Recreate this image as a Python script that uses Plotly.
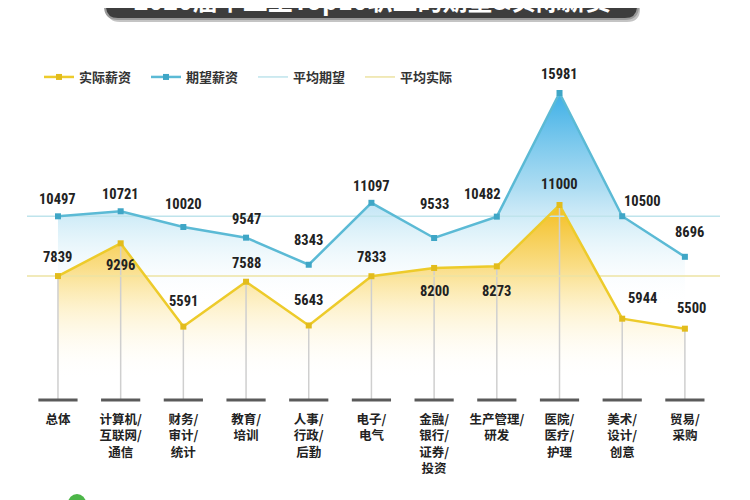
import plotly.graph_objects as go

# ---------------- data ----------------
categories = ["总体", "计算机/<br>互联网/<br>通信", "财务/<br>审计/<br>统计", "教育/<br>培训",
              "人事/<br>行政/<br>后勤", "电子/<br>电气", "金融/<br>银行/<br>证券/<br>投资",
              "生产管理/<br>研发", "医院/<br>医疗/<br>护理", "美术/<br>设计/<br>创意", "贸易/<br>采购"]
actual = [7839, 9296, 5591, 7588, 5643, 7833, 8200, 8273, 11000, 5944, 5500]
expected = [10497, 10721, 10020, 9547, 8343, 11097, 9533, 10482, 15981, 10500, 8696]
avg_expected = 10497
avg_actual = 7839
base_value = 2330
title_text = "• 2020届毕业生Top10职业的期望&实际薪资 •"

# label offsets in pixels (style only): vertical (negative = above) and horizontal
exp_dy = [-17, -17, -23, -18, -24, -16, -33, -22, -18, -15, -24]
exp_dx = [0, 0, 0, 0, 0, 0, 0, -14, 0, 20, 5]
act_dy = [-19, 22, -25, -18, -25, -19, 24, 25, -20, -20, -20]
act_dx = [0, 0, 0, 0, 0, 0, 0, 0, 0, 20, 7]

# ---------------- geometry helpers ----------------
OFF = 8  # page body margin
W, H = 750, 500
PW, PH = 693, 342
ML, MT = 27 - OFF, 60 - OFF
MR, MB = W - ML - PW, H - MT - PH
x_range = [-0.494, 10.56]
y_range = [2239, 17448]

def px2paper_x(px):
    return (px - OFF - ML) / PW

def px2paper_y(py):
    return 1 - (py - OFF - MT) / PH

xs = list(range(len(categories)))

YELLOW = "#EDCB2B"
YELLOW_M = "#E2BC1C"
BLUE = "#5BBAD5"
BLUE_M = "#3FA6C6"
NUMFONT = "Roboto Condensed, Roboto, sans-serif"
CJK = "Noto Sans CJK SC, sans-serif"

fig = go.Figure()

# blue gradient fill
fig.add_trace(go.Scatter(
    x=xs, y=expected, mode="none", fill="tozeroy", showlegend=False, hoverinfo="skip",
    fillgradient=dict(type="vertical", start=6500, stop=16000,
                      colorscale=[[0, "rgba(255,255,255,0)"], [0.35, "rgba(200,233,246,0.6)"],
                                  [0.55, "rgba(160,215,240,0.85)"], [1, "rgba(60,175,230,1)"]]),
))
# yellow gradient fill
fig.add_trace(go.Scatter(
    x=xs, y=actual, mode="none", fill="tozeroy", showlegend=False, hoverinfo="skip",
    fillgradient=dict(type="vertical", start=3200, stop=11000,
                      colorscale=[[0, "rgba(255,255,255,0)"], [0.4, "rgba(253,238,190,0.7)"],
                                  [0.65, "rgba(250,218,120,0.9)"], [1, "rgba(245,190,30,1)"]]),
))

# vertical guide lines
vx, vy = [], []
for x, a in zip(xs, actual):
    vx += [x, x, None]
    vy += [a, base_value, None]
fig.add_trace(go.Scatter(x=vx, y=vy, mode="lines", line=dict(color="#cfcfcf", width=1.5),
                         showlegend=False, hoverinfo="skip"))
# bottom bars
fig.add_trace(go.Scatter(x=xs, y=[base_value] * len(xs), mode="markers",
                         marker=dict(symbol="line-ew", size=28, line=dict(color="#5a5a5a", width=3)),
                         showlegend=False, hoverinfo="skip", cliponaxis=False))

# average lines
fig.add_trace(go.Scatter(x=x_range, y=[avg_expected] * 2, mode="lines", name="平均期望",
                         line=dict(color="#BFE4EC", width=1.5), legendrank=3))
fig.add_trace(go.Scatter(x=x_range, y=[avg_actual] * 2, mode="lines", name="平均实际",
                         line=dict(color="#EDE3A3", width=1.5), legendrank=4))

# main lines
fig.add_trace(go.Scatter(
    x=xs, y=expected, mode="lines+markers", name="期望薪资", legendrank=2,
    line=dict(color=BLUE, width=2.5), marker=dict(symbol="square", size=6, color=BLUE_M)))
fig.add_trace(go.Scatter(
    x=xs, y=actual, mode="lines+markers", name="实际薪资", legendrank=1,
    line=dict(color=YELLOW, width=2.5), marker=dict(symbol="square", size=6, color=YELLOW_M)))

# value labels
annotations = []
for series, dys, dxs in ((expected, exp_dy, exp_dx), (actual, act_dy, act_dx)):
    for x, v, dy, dx in zip(xs, series, dys, dxs):
        annotations.append(dict(x=x, y=v, xref="x", yref="y", text=str(v), showarrow=False,
                                xanchor="center", yanchor="middle", xshift=dx, yshift=-dy,
                                font=dict(family=NUMFONT, size=14.5, color="#222", weight="bold")))

# title box (partially cut at the top)
bx0, bx1, by0, by1, r = 105, 638, -25, 19, 13
def rounded_path(x0, x1, y0, y1, r):
    X = px2paper_x; Y = px2paper_y
    return (f"M {X(x0 + r)},{Y(y0)} L {X(x1 - r)},{Y(y0)} Q {X(x1)},{Y(y0)} {X(x1)},{Y(y0 + r)} "
            f"L {X(x1)},{Y(y1 - r)} Q {X(x1)},{Y(y1)} {X(x1 - r)},{Y(y1)} "
            f"L {X(x0 + r)},{Y(y1)} Q {X(x0)},{Y(y1)} {X(x0)},{Y(y1 - r)} "
            f"L {X(x0)},{Y(y0 + r)} Q {X(x0)},{Y(y0)} {X(x0 + r)},{Y(y0)} Z")
shapes = [
    dict(type="path", xref="paper", yref="paper", path=rounded_path(bx0 + 2, bx1 + 2, by0, by1 + 3, r),
         fillcolor="#c4c4c4", line=dict(width=0), layer="above"),
    dict(type="path", xref="paper", yref="paper", path=rounded_path(bx0, bx1, by0, by1, r),
         fillcolor="#3d3d3d", line=dict(color="#9a9a9a", width=2), layer="above"),
    dict(type="circle", xref="paper", yref="paper",
         x0=px2paper_x(68), x1=px2paper_x(86), y0=px2paper_y(512), y1=px2paper_y(494),
         fillcolor="#4CB648", line=dict(width=0), layer="above"),
]

annotations.append(
    dict(text=title_text, xref="paper", yref="paper", x=px2paper_x(372), y=px2paper_y(19),
         xanchor="center", yanchor="bottom", showarrow=False,
         font=dict(family=CJK, size=25, color="white", weight="bold")))

fig.update_layout(
    width=W, height=H, margin=dict(l=ML, r=MR, t=MT, b=MB),
    paper_bgcolor="white", plot_bgcolor="white",
    shapes=shapes, annotations=annotations,
    showlegend=True,
    legend=dict(orientation="h", x=px2paper_x(39), y=px2paper_y(77), xanchor="left", yanchor="middle",
                entrywidth=62, entrywidthmode="pixels", itemwidth=30,
                font=dict(family=CJK, size=13, color="#333", weight="bold"),
                bgcolor="rgba(0,0,0,0)"),
    xaxis=dict(range=x_range, tickvals=xs, ticktext=categories, showgrid=False, zeroline=False,
               showline=False, ticks="outside", ticklen=6, tickcolor="rgba(0,0,0,0)",
               tickfont=dict(family=CJK, size=12.5, color="#222", weight="bold")),
    yaxis=dict(range=y_range, showgrid=False, zeroline=False, showline=False, showticklabels=False),
    hovermode=False,
)

fig.write_html("out.html")
